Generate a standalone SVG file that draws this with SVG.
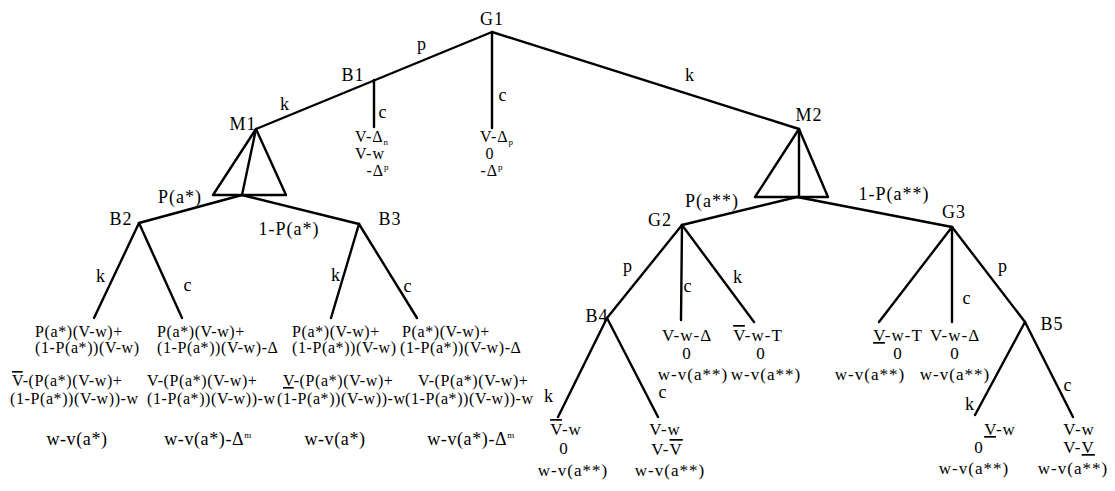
<svg xmlns="http://www.w3.org/2000/svg" width="1115" height="491" viewBox="0 0 1115 491">
<style>
.ln{stroke:#000;stroke-width:2.4;fill:none;stroke-linecap:round;stroke-linejoin:round}
text{font-family:"Liberation Serif","Times New Roman",serif;fill:#000}
.lbl{font-size:18px;text-anchor:middle;letter-spacing:1px}
.lf{font-size:16px;letter-spacing:0.6px}
.lb{font-size:18px;text-anchor:middle;letter-spacing:0.6px}
.lt{font-size:16px;text-anchor:middle;letter-spacing:1px}
.lr{font-size:17px;text-anchor:middle;letter-spacing:1px}
.ov{text-decoration:overline}
.un{text-decoration:underline}
.sm{font-size:9px}
</style>
<rect width="1115" height="491" fill="#fff"/>
<g id="connectors" class="ln">
<path d="M492,32 L256,129"/>
<path d="M492,32 L799,129"/>
<path d="M492,32 L492,128"/>
<path d="M374,80 L374,127"/>
<path d="M242,195 L139,223"/>
<path d="M242,195 L359,224"/>
<path d="M139,223 L94,318"/>
<path d="M139,223 L182,318"/>
<path d="M359,224 L331,318"/>
<path d="M359,224 L417,318"/>
<path d="M797,197 L682,225"/>
<path d="M797,197 L952,227"/>
<path d="M682,225 L607,318"/>
<path d="M682,225 L681,320"/>
<path d="M682,225 L754,322"/>
<path d="M607,318 L558,417"/>
<path d="M607,318 L658,417"/>
<path d="M952,227 L879,322"/>
<path d="M952,227 L952,322"/>
<path d="M952,227 L1025,322"/>
<path d="M1025,322 L975,415"/>
<path d="M1025,322 L1073,417"/>
</g>
<g id="edge-labels" class="lbl">
<text x="422" y="50">p</text>
<text x="285" y="110">k</text>
<text x="383" y="118">c</text>
<text x="503" y="101">c</text>
<text x="690" y="81">k</text>
<text x="180" y="203">P(a*)</text>
<text x="289" y="235">1-P(a*)</text>
<text x="101" y="282">k</text>
<text x="188" y="291">c</text>
<text x="336" y="281">k</text>
<text x="408" y="292">c</text>
<text x="712" y="207">P(a**)</text>
<text x="894" y="200">1-P(a**)</text>
<text x="628" y="272">p</text>
<text x="688" y="292">c</text>
<text x="738" y="283">k</text>
<text x="967" y="304">c</text>
<text x="1003" y="272">p</text>
<text x="549" y="402">k</text>
<text x="663" y="398">c</text>
<text x="970" y="410">k</text>
<text x="1068" y="391">c</text>
</g>
<g id="G1"><text class="lbl" x="492" y="25" letter-spacing="3">G1</text></g>
<g id="B1"><text class="lbl" x="353" y="81">B1</text></g>
<g id="M1">
<polygon class="ln" points="256,129 213,195 286,195"/>
<path class="ln" d="M256,129 L242,195"/>
<text class="lbl" x="243" y="130">M1</text>
</g>
<g id="M2">
<polygon class="ln" points="799,129 755,197 828,197"/>
<path class="ln" d="M799,129 L799,197"/>
<text class="lbl" x="809" y="121">M2</text>
</g>
<g id="B2"><text class="lbl" x="121" y="225">B2</text></g>
<g id="B3"><text class="lbl" x="390" y="225">B3</text></g>
<g id="G2"><text class="lbl" x="660" y="226">G2</text></g>
<g id="G3"><text class="lbl" x="954" y="218">G3</text></g>
<g id="B4"><text class="lbl" x="597" y="322">B4</text></g>
<g id="B5"><text class="lbl" x="1052" y="330">B5</text></g>
<g id="leaf-B1c" class="lt">
<text x="372" y="142">V-Δ<tspan class="sm" dy="3">n</tspan></text>
<text x="370" y="159">V-w</text>
<text x="378" y="176">-Δ<tspan class="sm" dy="-6">p</tspan></text>
</g>
<g id="leaf-G1c" class="lt">
<text x="497" y="142">V-Δ<tspan class="sm" dy="3">p</tspan></text>
<text x="490" y="159">0</text>
<text x="492" y="176">-Δ<tspan class="sm" dy="-6">p</tspan></text>
</g>
<g id="leaf-B2k">
<text class="lf" x="35" y="337">P(a*)(V-w)+</text>
<text class="lf" x="35" y="353">(1-P(a*))(V-w)</text>
<text class="lf" x="12" y="386"><tspan class="ov">V</tspan>-(P(a*)(V-w)+</text>
<text class="lf" x="10" y="404">(1-P(a*))(V-w))-w</text>
<text class="lb" x="77" y="445">w-v(a*)</text>
</g>
<g id="leaf-B2c">
<text class="lf" x="157" y="337">P(a*)(V-w)+</text>
<text class="lf" x="157" y="353">(1-P(a*))(V-w)-Δ</text>
<text class="lf" x="147" y="386">V-(P(a*)(V-w)+</text>
<text class="lf" x="147" y="404">(1-P(a*))(V-w))-w</text>
<text class="lb" x="208" y="445">w-v(a*)-Δ<tspan class="sm" dy="-7">m</tspan></text>
</g>
<g id="leaf-B3k">
<text class="lf" x="292" y="337">P(a*)(V-w)+</text>
<text class="lf" x="292" y="353">(1-P(a*))(V-w)</text>
<text class="lf" x="283" y="386"><tspan class="un">V</tspan>-(P(a*)(V-w)+</text>
<text class="lf" x="277" y="404">(1-P(a*))(V-w))-w</text>
<text class="lb" x="335" y="445">w-v(a*)</text>
</g>
<g id="leaf-B3c">
<text class="lf" x="402" y="337">P(a*)(V-w)+</text>
<text class="lf" x="400" y="353">(1-P(a*))(V-w)-Δ</text>
<text class="lf" x="418" y="386">V-(P(a*)(V-w)+</text>
<text class="lf" x="405" y="404">(1-P(a*))(V-w))-w</text>
<text class="lb" x="471" y="445">w-v(a*)-Δ<tspan class="sm" dy="-7">m</tspan></text>
</g>
<g id="leaf-G2c" class="lr">
<text x="687" y="341">V-w-Δ</text>
<text x="687" y="359">0</text>
<text x="693" y="380">w-v(a**)</text>
</g>
<g id="leaf-G2k" class="lr">
<text x="758" y="341"><tspan class="ov">V</tspan>-w-T</text>
<text x="761" y="359">0</text>
<text x="766" y="380">w-v(a**)</text>
</g>
<g id="leaf-B4k" class="lr">
<text x="566" y="435"><tspan class="ov">V</tspan>-w</text>
<text x="564" y="454">0</text>
<text x="573" y="476">w-v(a**)</text>
</g>
<g id="leaf-B4c" class="lr">
<text x="665" y="435">V-w</text>
<text x="667" y="455">V-<tspan class="ov">V</tspan></text>
<text x="670" y="476">w-v(a**)</text>
</g>
<g id="leaf-G3k" class="lr">
<text x="898" y="341"><tspan class="un">V</tspan>-w-T</text>
<text x="898" y="359">0</text>
<text x="870" y="380">w-v(a**)</text>
</g>
<g id="leaf-G3c" class="lr">
<text x="955" y="341">V-w-Δ</text>
<text x="955" y="359">0</text>
<text x="955" y="380">w-v(a**)</text>
</g>
<g id="leaf-B5k" class="lr">
<text x="1000" y="435"><tspan class="un">V</tspan>-w</text>
<text x="979" y="453">0</text>
<text x="974" y="474">w-v(a**)</text>
</g>
<g id="leaf-B5c" class="lr">
<text x="1079" y="435">V-w</text>
<text x="1079" y="453">V-<tspan class="un">V</tspan></text>
<text x="1073" y="474">w-v(a**)</text>
</g>
</svg>
